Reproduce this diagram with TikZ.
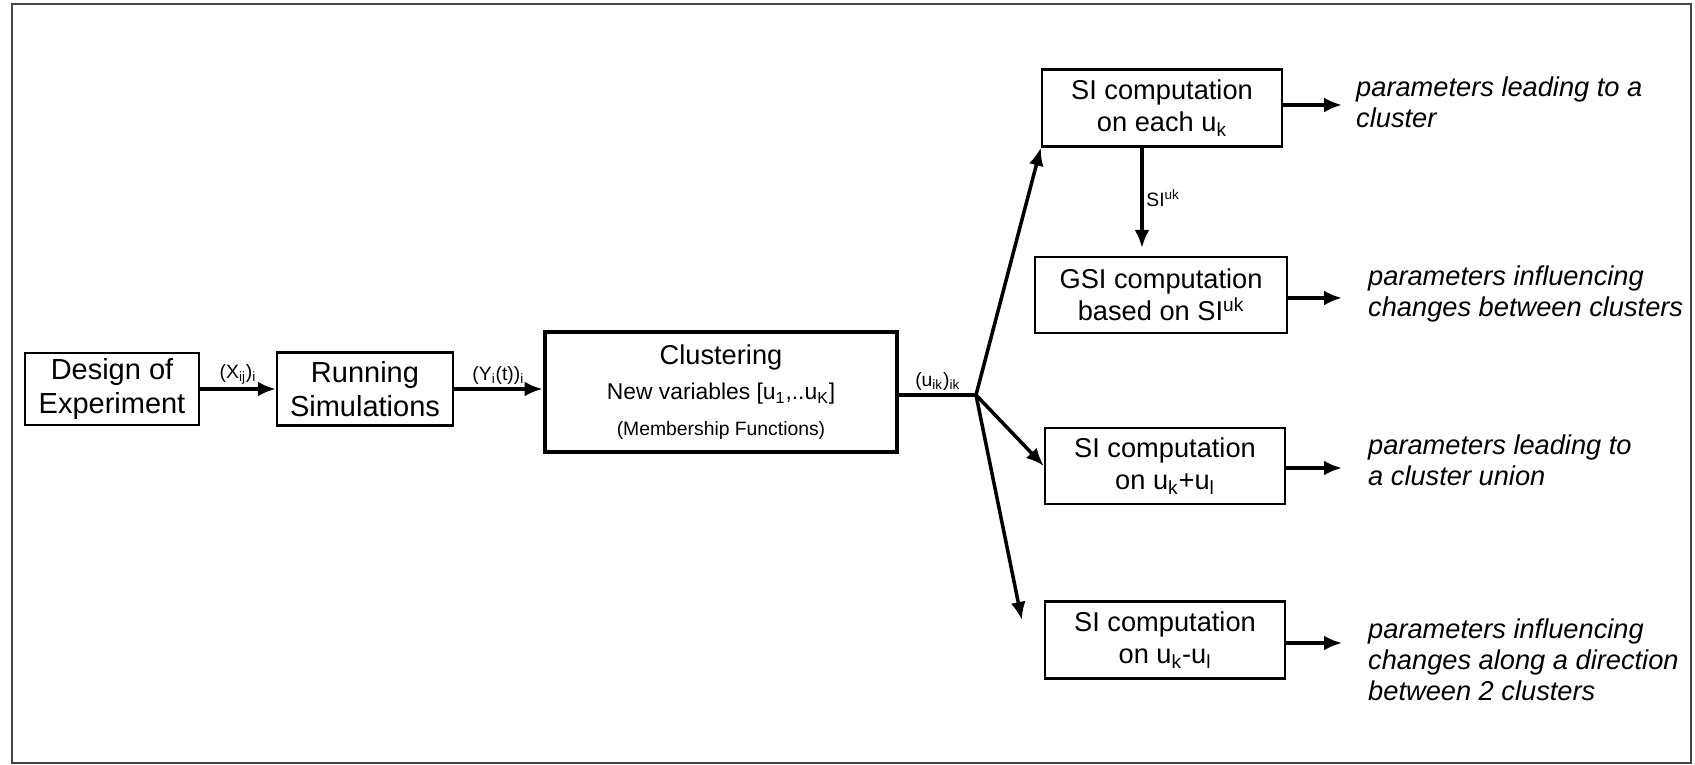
\documentclass[tikz,border=0pt]{standalone}
\usepackage{fontspec}
\setmainfont{Liberation Sans}
\usetikzlibrary{arrows.meta, positioning, calc}
\definecolor{rahmengrau}{RGB}{70,70,70}

\begin{document}
\begin{tikzpicture}[x=0.2mm, y=-0.2mm, font=\fontsize{15.5}{18}\selectfont,
        block/.style={draw, line width=1.3pt, align=center, inner sep=1pt},
        flow/.style={-{Latex[length=3.6mm, width=3mm]}, line width=2pt},
        outcome/.style={anchor=west, align=left, font=\fontsize{15.5}{17.5}\selectfont\itshape},
        tag/.style={font=\fontsize{11}{13}\selectfont, inner sep=1.5pt}]
    \useasboundingbox (0,0) rectangle (1695,765);
    \draw[rahmengrau, line width=1.6pt] (12,4) rectangle (1691,763);

    % left chain
    \node[block, minimum width=34.8mm, minimum height=14.4mm, font=\fontsize{16.5}{19}\selectfont] (doe) at (112,389) {Design of\\Experiment};
    \node[block, minimum width=35.2mm, minimum height=14.6mm, font=\fontsize{16.5}{19}\selectfont] (sim) at (365,389) {Running\\Simulations};
    \node[block, line width=2.8pt, minimum width=70.4mm, minimum height=24mm] (clu) at (721,392)
        {Clustering\\[2pt]{\fontsize{13}{15}\selectfont New variables [u\textsubscript{1},..u\textsubscript{K}]}\\[2pt]{\fontsize{11}{13}\selectfont (Membership Functions)}};

    % right column
    \node[block, minimum width=48mm, minimum height=15.4mm] (siA) at (1162,108) {SI computation\\on each u\textsubscript{k}};
    \node[block, minimum width=50.4mm, minimum height=15.2mm] (gsi) at (1161,295) {GSI computation\\based on SI\textsuperscript{uk}};
    \node[block, minimum width=48mm, minimum height=15.2mm] (siC) at (1165,466) {SI computation\\on u\textsubscript{k}+u\textsubscript{l}};
    \node[block, minimum width=48mm, minimum height=15.4mm] (siD) at (1165,640) {SI computation\\on u\textsubscript{k}-u\textsubscript{l}};

    % what comes out
    \node[outcome] (resA) at (1350,102) {parameters leading to a\\cluster};
    \node[outcome] (resB) at (1362,294) {parameters influencing\\changes between clusters};
    \node[outcome] (resC) at (1362,460) {parameters leading to\\a cluster union};
    \node[outcome] (resD) at (1362,660) {parameters influencing\\changes along a direction\\between 2 clusters};

    \coordinate (fan) at (976,395);

    \draw[flow] (doe) -- node[tag, above] {(X\textsubscript{ij})\textsubscript{i}} (sim);
    \draw[flow] (sim.east) -- node[tag, above] {(Y\textsubscript{i}(t))\textsubscript{i}} (sim.east -| clu.west);
    \draw[line width=2pt] (fan -| clu.east) -- node[tag, above] {(u\textsubscript{ik})\textsubscript{ik}} (fan);
    \draw[flow] (fan) -- (siA.south west);
    \draw[flow] (fan) -- (siC.west);
    \draw[flow] (fan) -- ($(siD.west)+(-22,-20)$);
    \draw[flow] ($(siA.south)+(-20,0)$) -- node[tag, right] {SI\textsuperscript{uk}} ($(gsi.north)+(-19,-8)$);
    \foreach \b/\r/\dy/\gap in {siA/resA/-3/1.6mm, gsi/resB/3/4mm, siC/resC/2/4mm, siD/resD/3/4mm}
        \draw[flow, shorten >=\gap] ($(\b.east)+(0,\dy)$) -- ($(\b.east -| \r.west)+(0,\dy)$);
\end{tikzpicture}
\end{document}
